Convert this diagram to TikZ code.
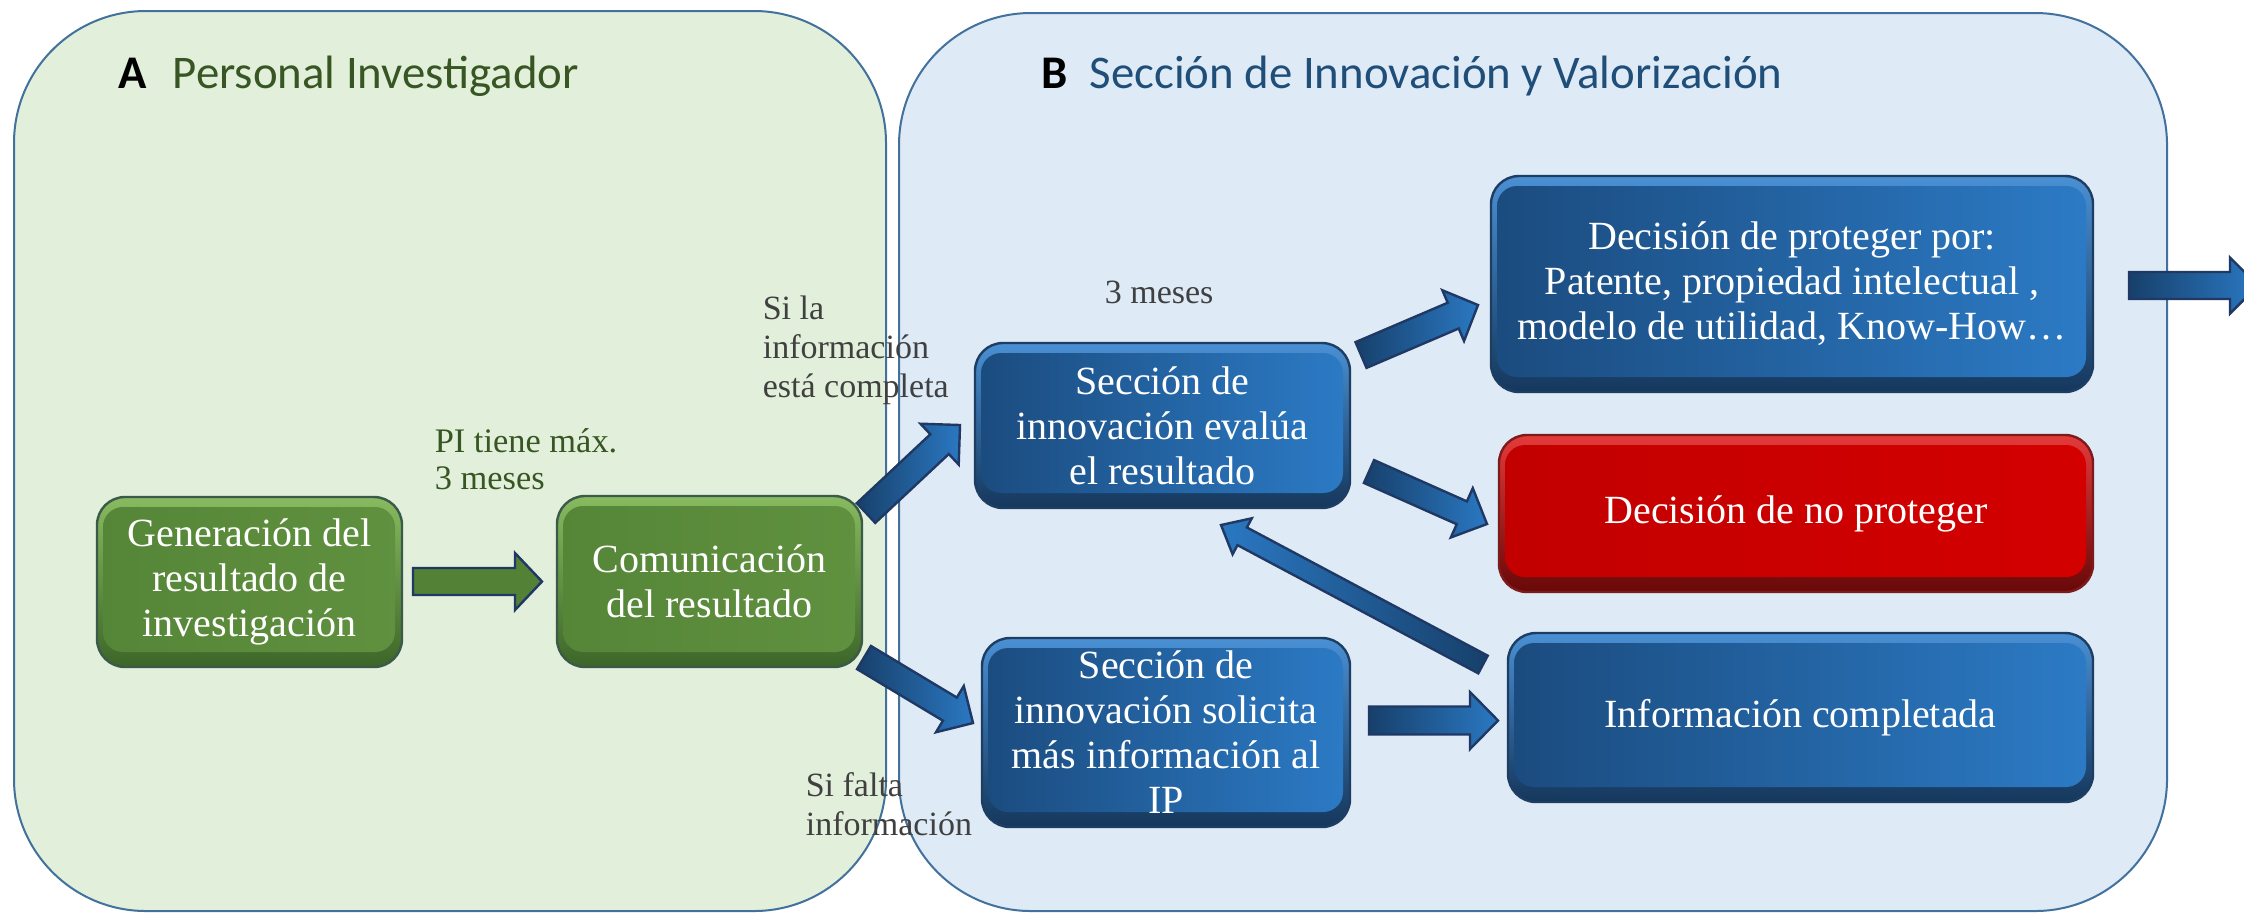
\documentclass[tikz,border=0pt]{standalone}
\usepackage{fontspec}
\setmainfont{Liberation Serif}
\newfontfamily\titlefont{Carlito}
\usetikzlibrary{calc}
\definecolor{panAfill}{HTML}{E2EFDA}
\definecolor{panBfill}{HTML}{DEEAF6}
\definecolor{panBorder}{HTML}{41719C}
\definecolor{titleGreen}{HTML}{375623}
\definecolor{titleBlue}{HTML}{1F4E79}
\definecolor{labelGray}{HTML}{404040}
\definecolor{gBorder}{HTML}{3B5A4A}
\definecolor{gTop}{HTML}{88BA60}
\definecolor{gBot}{HTML}{3C6628}
\definecolor{gL}{HTML}{558537}
\definecolor{gR}{HTML}{60913F}
\definecolor{bBorder}{HTML}{1E3D62}
\definecolor{bTop}{HTML}{4A90D4}
\definecolor{bBot}{HTML}{15375C}
\definecolor{bL}{HTML}{1B4B7E}
\definecolor{bR}{HTML}{2C7BC6}
\definecolor{rBorder}{HTML}{7E1A1A}
\definecolor{rTop}{HTML}{E43A3A}
\definecolor{rBot}{HTML}{680808}
\definecolor{rL}{HTML}{C20000}
\definecolor{rR}{HTML}{D40000}
\definecolor{aBorder}{HTML}{1F3864}
\definecolor{aDark}{HTML}{17406B}
\definecolor{aLight}{HTML}{2A78C2}
\definecolor{gArrow}{HTML}{538135}

\tikzset{
  panel/.style={draw=panBorder, line width=0.5pt, rounded corners=33pt},
  boxbase/.style={rounded corners=7pt, line width=0.6pt, inner sep=0pt, align=center,
     text=white, font=\fontsize{10}{11.25}\selectfont},
  greenbox/.style={boxbase, draw=gBorder, top color=gTop, bottom color=gBot,
     path picture={\path[left color=gL, right color=gR, rounded corners=5pt]
       ($(path picture bounding box.north west)+(6,10)$) rectangle
       ($(path picture bounding box.south east)+(-7,-15)$);}},
  bluebox/.style={boxbase, draw=bBorder, top color=bTop, bottom color=bBot,
     path picture={\path[left color=bL, right color=bR, rounded corners=5pt]
       ($(path picture bounding box.north west)+(6,10)$) rectangle
       ($(path picture bounding box.south east)+(-7,-15)$);}},
  redbox/.style={boxbase, draw=rBorder, top color=rTop, bottom color=rBot,
     path picture={\path[left color=rL, right color=rR, rounded corners=5pt]
       ($(path picture bounding box.north west)+(6,10)$) rectangle
       ($(path picture bounding box.south east)+(-7,-15)$);}},
  barrow/.style={draw=aBorder, line width=0.6pt, left color=aDark, right color=aLight},
  barrowrev/.style={draw=aBorder, line width=0.6pt, left color=aLight, right color=aDark},
  garrowstyle/.style={draw=aBorder, line width=0.6pt, fill=gArrow},
  lbl/.style={align=left, inner sep=0pt, anchor=base west},
  ttl/.style={inner sep=0pt, anchor=base west, font=\titlefont\fontsize{11.7}{14}\selectfont},
}

\newcommand\blockarrow[6]{%
  \coordinate (ba-m) at ($(#3)!#6!(#2)$);
  \path[#1] ($(#2)!#4!90:(#3)$) -- ($(ba-m)!#4!90:(#3)$) -- ($(ba-m)!#5!90:(#3)$)
    -- (#3) -- ($(ba-m)!#5!-90:(#3)$) -- ($(ba-m)!#4!-90:(#3)$)
    -- ($(#2)!#4!-90:(#3)$) -- cycle;}

\begin{document}
\begin{tikzpicture}[x=0.25pt,y=-0.25pt]
\useasboundingbox (0,0) rectangle (2244,913);
\clip (0,0) rectangle (2244,913);
\fill[white] (0,0) rectangle (2244,913);

% panels
\path[panel, fill=panAfill] (14,11) rectangle (886,911);
\path[panel, fill=panBfill] (899,13) rectangle (2167,911);

% titles
\node[ttl, font=\titlefont\bfseries\fontsize{11.7}{14}\selectfont] (tA) at (118,88) {A};
\node[ttl, text=titleGreen] (tAname) at (172,88) {Personal Investigador};
\node[ttl, font=\titlefont\bfseries\fontsize{11.7}{14}\selectfont] (tB) at (1041,88) {B};
\node[ttl, text=titleBlue] (tBname) at (1089,88) {Sección de Innovación y Valorización};

% boxes
\node[greenbox, minimum width=76.25pt, minimum height=42.5pt] (gen) at (249.5,582)
  {Generación del\\resultado de\\investigación};
\node[greenbox, minimum width=76.25pt, minimum height=42.75pt] (com) at (709.5,581.5)
  {Comunicación\\del resultado};
\node[bluebox, minimum width=93.75pt, minimum height=41.25pt] (eval) at (1162.5,425.5)
  {Sección de\\innovación evalúa\\el resultado};
\node[bluebox, minimum width=150.5pt, minimum height=54pt] (prot) at (1792,284)
  {Decisión de proteger por:\\Patente, propiedad intelectual ,\\modelo de utilidad, Know-How…};
\node[redbox, minimum width=148.5pt, minimum height=39.25pt] (noprot) at (1796,513.5)
  {Decisión de no proteger};
\node[bluebox, minimum width=146.25pt, minimum height=42.25pt] (info) at (1800.5,717.5)
  {Información completada};
\node[bluebox, minimum width=92pt, minimum height=47.25pt] (solic) at (1166,732.5)
  {Sección de\\innovación solicita\\más información al\\IP};

% labels (base anchor = baseline of the last line)
\node[lbl, text=titleGreen, font=\fontsize{8.6}{9.2}\selectfont] (lpi) at (434,489)
  {PI tiene máx.\\3 meses};
\node[lbl, text=labelGray, font=\fontsize{8.5}{9.7}\selectfont] (lsila) at (762,397)
  {Si la\\información\\está completa};
\node[lbl, text=labelGray, font=\fontsize{8.5}{9.7}\selectfont] (l3m) at (1104,303)
  {3 meses};
\node[lbl, text=labelGray, font=\fontsize{8.5}{9.6}\selectfont] (lfalta) at (805,835)
  {Si falta\\información};

% arrow end points
\coordinate (g-s) at (413,581.5);   \coordinate (g-e) at (542,581.5);
\coordinate (a1-s) at (866,513);    \coordinate (a1-e) at (960,425);
\coordinate (a2-s) at (864,657.5);  \coordinate (a2-e) at (973,723);
\coordinate (a3-s) at (1361,355);   \coordinate (a3-e) at (1478,305);
\coordinate (a4-s) at (1369,471.5); \coordinate (a4-e) at (1487,524);
\coordinate (a5-s) at (1483,664.5); \coordinate (a5-e) at (1221,525);
\coordinate (a6-s) at (1369,720.5); \coordinate (a6-e) at (1498,720.5);
\coordinate (a7-s) at (2129,285.5); \coordinate (a7-e) at (2258,285.5);

\blockarrow{garrowstyle}{g-s}{g-e}{3.375pt}{7.125pt}{6.75pt}
\blockarrow{barrow}{a1-s}{a1-e}{3.375pt}{7pt}{7pt}
\blockarrow{barrow}{a2-s}{a2-e}{3.375pt}{6.75pt}{6.75pt}
\blockarrow{barrow}{a3-s}{a3-e}{3.5pt}{6.9pt}{6.75pt}
\blockarrow{barrow}{a4-s}{a4-e}{3.125pt}{6.75pt}{6.9pt}
\blockarrow{barrowrev}{a5-s}{a5-e}{2.5pt}{5.1pt}{6pt}
\blockarrow{barrow}{a6-s}{a6-e}{3.5pt}{7.125pt}{7pt}
\blockarrow{barrow}{a7-s}{a7-e}{3.375pt}{7pt}{7pt}
\end{tikzpicture}
\end{document}
